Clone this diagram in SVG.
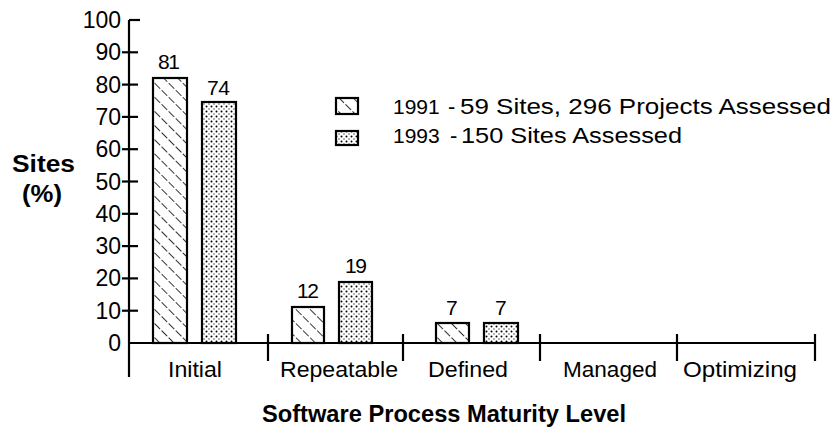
<svg xmlns="http://www.w3.org/2000/svg" width="833" height="433" viewBox="0 0 833 433">
<style>
text{font-family:"Liberation Sans",Arial,sans-serif;fill:#000}
.tk{font-size:23px;text-anchor:end}
.v{font-size:21px}
.c{font-size:22px}
.lg{font-size:22px}
.yr{font-size:21px}
.ax{stroke:#000;stroke-width:2.2;fill:none}
.bar{stroke:#000;stroke-width:2.2}
.b91{fill:url(#hatch)}
.b93{fill:url(#dots)}
</style>
<defs>
<pattern id="hatch" patternUnits="userSpaceOnUse" width="10" height="10" patternTransform="rotate(-45)">
<rect width="10" height="10" fill="#fff"/>
<line x1="0" y1="0" x2="0" y2="10" stroke="#000" stroke-width="1.6" stroke-dasharray="6 2"/>
</pattern>
<pattern id="dots" patternUnits="userSpaceOnUse" width="5" height="5">
<rect width="5" height="5" fill="#fff"/>
<circle cx="1.5" cy="1.5" r="1" fill="#000"/>
<circle cx="4" cy="4" r="0.7" fill="#333"/>
</pattern>
</defs>
<g id="axes">
<line class="ax" x1="129" y1="20" x2="129" y2="377"/>
<line class="ax" x1="129" y1="343" x2="816" y2="343"/>
<g id="yticks">
<line class="ax" x1="129" y1="20" x2="140" y2="20"/>
<line class="ax" x1="122" y1="52.3" x2="138" y2="52.3"/>
<line class="ax" x1="122" y1="84.6" x2="138" y2="84.6"/>
<line class="ax" x1="122" y1="116.9" x2="138" y2="116.9"/>
<line class="ax" x1="122" y1="149.2" x2="138" y2="149.2"/>
<line class="ax" x1="122" y1="181.5" x2="138" y2="181.5"/>
<line class="ax" x1="122" y1="213.8" x2="138" y2="213.8"/>
<line class="ax" x1="122" y1="246.1" x2="138" y2="246.1"/>
<line class="ax" x1="122" y1="278.4" x2="138" y2="278.4"/>
<line class="ax" x1="122" y1="310.7" x2="138" y2="310.7"/>
</g>
<g id="xticks">
<line class="ax" x1="268" y1="334" x2="268" y2="361"/>
<line class="ax" x1="403" y1="334" x2="403" y2="361"/>
<line class="ax" x1="540" y1="334" x2="540" y2="361"/>
<line class="ax" x1="677" y1="334" x2="677" y2="361"/>
<line class="ax" x1="815" y1="334" x2="815" y2="361"/>
</g>
<g id="ylabels">
<text class="tk" x="121" y="28">100</text>
<text class="tk" x="121" y="60">90</text>
<text class="tk" x="121" y="93">80</text>
<text class="tk" x="121" y="125">70</text>
<text class="tk" x="121" y="157">60</text>
<text class="tk" x="121" y="190">50</text>
<text class="tk" x="121" y="222">40</text>
<text class="tk" x="121" y="254">30</text>
<text class="tk" x="121" y="286">20</text>
<text class="tk" x="121" y="319">10</text>
<text class="tk" x="121" y="351">0</text>
</g>
</g>
<g id="ytitle">
<text x="12" y="172" font-size="23" font-weight="bold" textLength="63" lengthAdjust="spacingAndGlyphs">Sites</text>
<text x="22" y="202" font-size="23" font-weight="bold" textLength="40" lengthAdjust="spacingAndGlyphs">(%)</text>
</g>
<g id="initial">
<rect class="bar b91" x="153" y="78" width="34" height="265"/>
<rect class="bar b93" x="202" y="102" width="34" height="241"/>
<text class="v" x="158" y="69" textLength="22">81</text>
<text class="v" x="207" y="95" textLength="23">74</text>
<text class="c" x="168" y="377" textLength="54" lengthAdjust="spacingAndGlyphs">Initial</text>
</g>
<g id="repeatable">
<rect class="bar b91" x="292" y="307" width="32" height="36"/>
<rect class="bar b93" x="339" y="282" width="33" height="61"/>
<text class="v" x="297" y="298" textLength="22">12</text>
<text class="v" x="345" y="273" textLength="22">19</text>
<text class="c" x="280" y="377" textLength="118" lengthAdjust="spacingAndGlyphs">Repeatable</text>
</g>
<g id="defined">
<rect class="bar b91" x="436" y="323" width="33" height="20"/>
<rect class="bar b93" x="484" y="323" width="34" height="20"/>
<text class="v" x="446" y="315">7</text>
<text class="v" x="495" y="315">7</text>
<text class="c" x="428" y="377" textLength="80" lengthAdjust="spacingAndGlyphs">Defined</text>
</g>
<g id="managed">
<text class="c" x="563" y="377" textLength="94" lengthAdjust="spacingAndGlyphs">Managed</text>
</g>
<g id="optimizing">
<text class="c" x="683" y="377" textLength="114" lengthAdjust="spacingAndGlyphs">Optimizing</text>
</g>
<g id="legend">
<rect class="bar b91" x="336" y="98" width="22" height="16"/>
<text class="yr" x="393" y="114">1991</text>
<text class="lg" x="448" y="114">-</text>
<text class="lg" x="460" y="114" textLength="371" lengthAdjust="spacingAndGlyphs">59 Sites, 296 Projects Assessed</text>
<rect class="bar b93" x="336" y="131" width="22" height="14"/>
<text class="yr" x="393" y="143">1993</text>
<text class="lg" x="450" y="143">-</text>
<text class="lg" x="461" y="143" textLength="221" lengthAdjust="spacingAndGlyphs">150 Sites Assessed</text>
</g>
<g id="xtitle">
<text x="262" y="422" font-size="23" font-weight="bold" textLength="364" lengthAdjust="spacingAndGlyphs">Software Process Maturity Level</text>
</g>
</svg>
